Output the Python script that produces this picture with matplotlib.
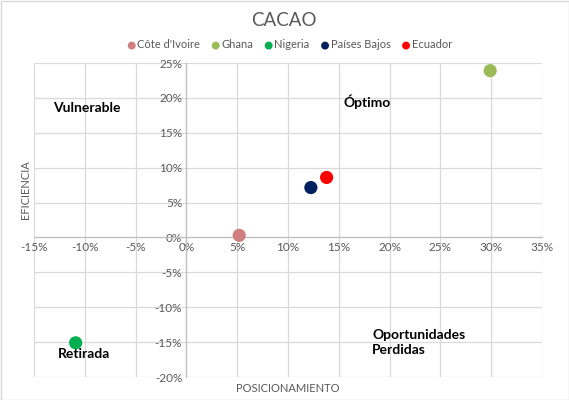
import matplotlib
matplotlib.use("Agg")
import matplotlib.pyplot as plt
from matplotlib.ticker import FuncFormatter, MultipleLocator
from matplotlib.patches import Rectangle

countries = ["Côte d'Ivoire", "Ghana", "Nigeria", "Países Bajos", "Ecuador"]
posicionamiento = [5.2, 29.9, -10.9, 12.25, 13.8]
eficiencia = [0.3, 23.9, -15.1, 7.15, 8.6]
colors = ["#D07F7F", "#9BBB59", "#00B050", "#002060", "#FF0000"]

quadrant_labels = ["Vulnerable", "Óptimo", "Retirada", "Oportunidades\nPerdidas"]
quadrant_pos = [(-9.8, 18.5, "center"), (17.8, 19.5, "center"), (-10.1, -16.7, "center"), (18.3, -15.1, "left")]

plt.rcParams['font.family'] = ['Lato', 'DejaVu Sans']

fig = plt.figure(figsize=(5.69, 4.0), dpi=100)
ax = fig.add_axes([34/569, 1-377/400, (542-34)/569, (377-63)/400])

for c, x, y, col in zip(countries, posicionamiento, eficiencia, colors):
    ax.scatter(x, y, s=90, color=col, label=c, zorder=3, edgecolors='none')

ax.set_xlim(-15, 35)
ax.set_ylim(-20, 25)
ax.xaxis.set_major_locator(MultipleLocator(5))
ax.yaxis.set_major_locator(MultipleLocator(5))
fmt = FuncFormatter(lambda v, p: f"{int(round(v))}%")
ax.xaxis.set_major_formatter(fmt)
ax.yaxis.set_major_formatter(fmt)

ax.grid(True, color="#D9D9D9", linewidth=0.9, zorder=0)
ax.set_axisbelow(True)

ax.spines['left'].set_position(('data', 0))
ax.spines['bottom'].set_position(('data', 0))
ax.spines['top'].set_visible(False)
ax.spines['right'].set_visible(False)
for s in ['left', 'bottom']:
    ax.spines[s].set_color("#BFBFBF")
    ax.spines[s].set_linewidth(0.9)
ax.tick_params(length=0, labelsize=8.5, labelcolor="#595959", pad=3)

for lab, (x, y, ha) in zip(quadrant_labels, quadrant_pos):
    ax.text(x, y, lab, ha=ha, va="center", fontsize=10, fontweight="bold",
            color="black", linespacing=1.3, zorder=4)

fig.text(26/569, 1-190/400, "EFICIENCIA", rotation=90, ha="center", va="center",
         fontsize=8, color="#595959")
fig.text(288/569, 1-389/400, "POSICIONAMIENTO", ha="center", va="center",
         fontsize=8, color="#595959")
fig.text(284/569, 1-21/400, "CACAO", ha="center", va="center",
         fontsize=13.5, color="#595959")

leg = fig.legend(loc="center", bbox_to_anchor=(289/569, 1-45/400), ncol=5,
                 frameon=False, fontsize=8, handletextpad=0.0, columnspacing=0.9,
                 handlelength=1.0, markerscale=0.6, borderaxespad=0)
for t in leg.get_texts():
    t.set_color("#595959")

fig.patches.append(Rectangle((0.5/569, 0.5/400), 1-1/569, 1-1/400, transform=fig.transFigure,
                             fill=False, edgecolor="#D9D9D9", linewidth=1))

fig.savefig("out.png", dpi=100, facecolor="white")
